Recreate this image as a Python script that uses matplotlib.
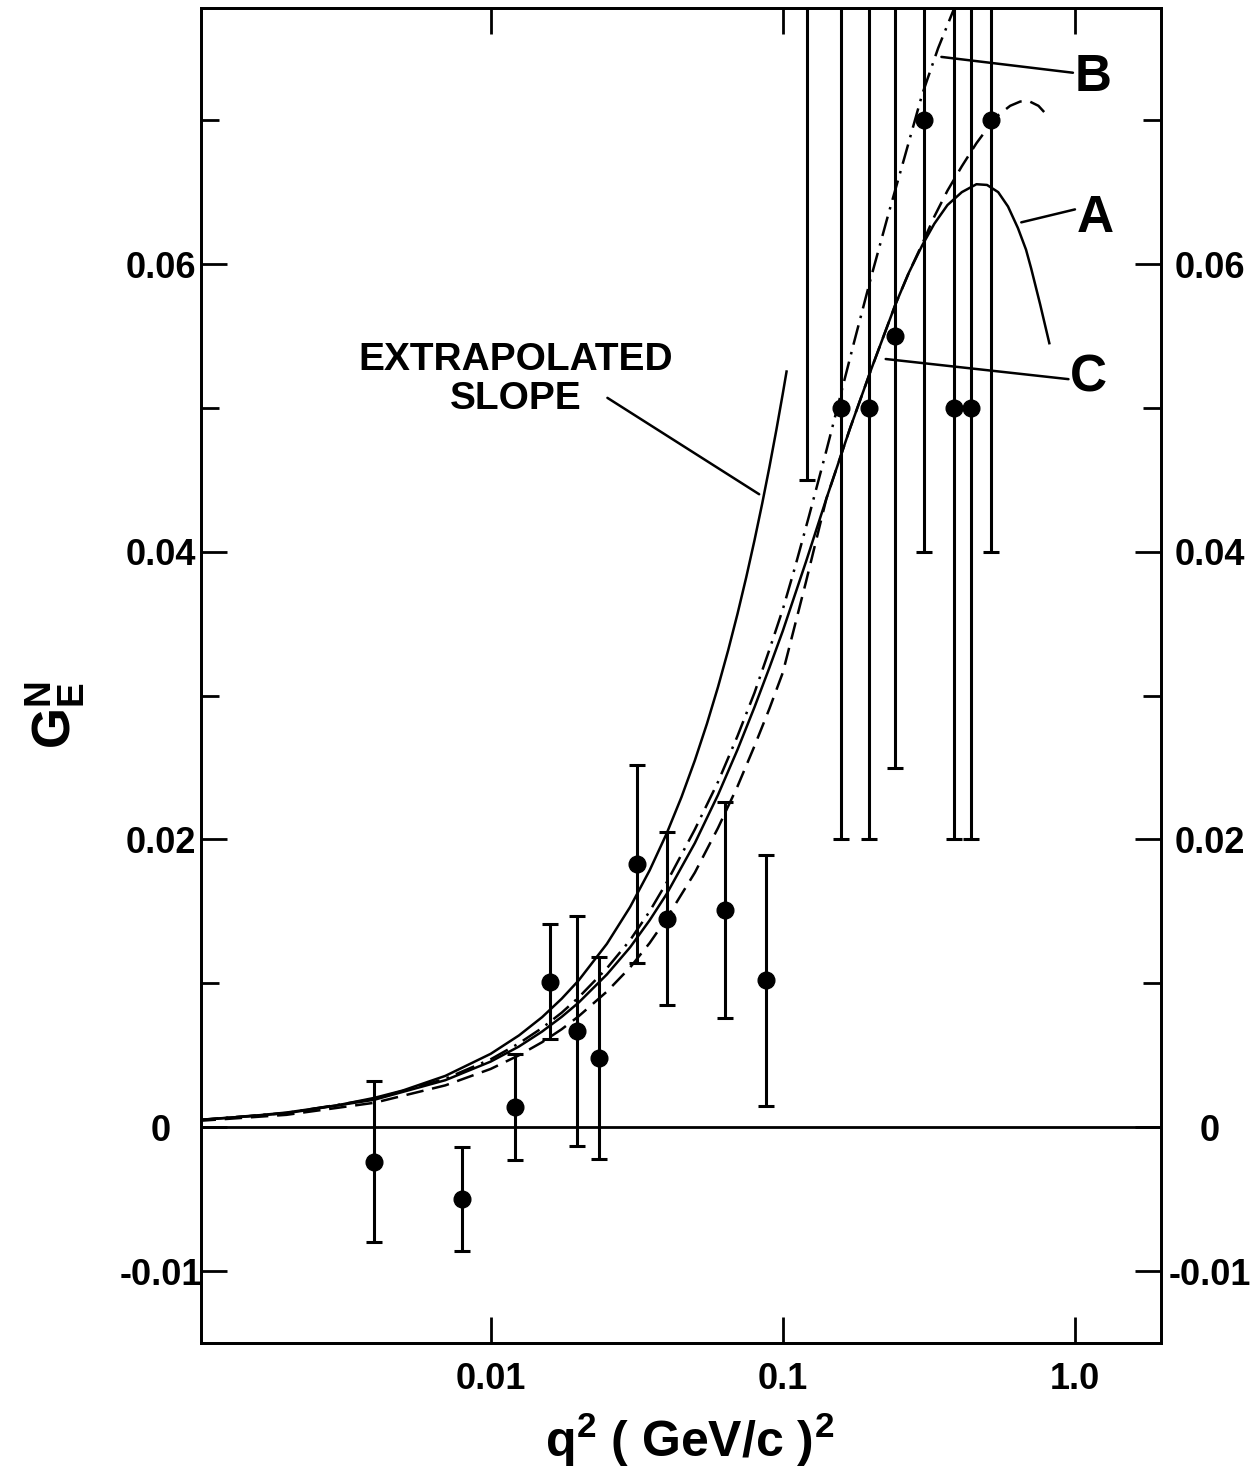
import numpy as np
import matplotlib
matplotlib.use('Agg')
import matplotlib.pyplot as plt
from matplotlib.ticker import FixedLocator, FixedFormatter, NullLocator

plt.rcParams['font.family'] = ['Liberation Sans Narrow', 'Liberation Sans', 'DejaVu Sans']
plt.rcParams['font.weight'] = 'bold'

# measured points (q^2 in (GeV/c)^2, G_E^N, symmetric error)
q2_pts = [0.0040, 0.0080, 0.0121, 0.0160, 0.0198, 0.0234, 0.0316, 0.0403, 0.0634, 0.0877,
          0.121, 0.158, 0.197, 0.243, 0.305, 0.384, 0.442, 0.517]
ge_pts = [-0.0024, -0.0050, 0.0014, 0.0101, 0.0067, 0.0048, 0.0183, 0.0145, 0.0151, 0.0102,
          0.085, 0.050, 0.050, 0.055, 0.070, 0.050, 0.050, 0.070]
ge_err = [0.0056, 0.0036, 0.0037, 0.0040, 0.0080, 0.0070, 0.0069, 0.0060, 0.0075, 0.0087,
          0.040, 0.030, 0.030, 0.030, 0.030, 0.030, 0.030, 0.030]

# extrapolated slope (straight line in q^2)
ext_q2 = [0.001, 0.0015, 0.002, 0.003, 0.004, 0.005, 0.007, 0.01, 0.0125, 0.015, 0.0175, 0.02,
          0.025, 0.03, 0.035, 0.04, 0.045, 0.05, 0.055, 0.06, 0.065, 0.07, 0.075, 0.08, 0.085,
          0.09, 0.095, 0.1, 0.103]
ext_ge = [0.00051, 0.00077, 0.00102, 0.00153, 0.00204, 0.00255, 0.00357, 0.00510, 0.00638,
          0.00765, 0.00893, 0.01020, 0.01275, 0.01530, 0.01785, 0.02040, 0.02295, 0.02550,
          0.02805, 0.03060, 0.03315, 0.03570, 0.03825, 0.04080, 0.04335, 0.04590, 0.04845,
          0.05100, 0.05253]

# curve A (solid)
a_q2 = [0.001, 0.002, 0.004, 0.007, 0.01, 0.0125, 0.015, 0.0175, 0.02, 0.025, 0.03, 0.035, 0.04,
        0.05, 0.06, 0.07, 0.08, 0.09, 0.1, 0.12, 0.141, 0.17, 0.2, 0.243, 0.27, 0.3, 0.33, 0.366,
        0.41, 0.46, 0.50, 0.546, 0.59, 0.638, 0.68, 0.708, 0.76, 0.817]
a_ge = [0.00049, 0.00097, 0.00191, 0.00327, 0.00456, 0.00561, 0.00665, 0.00767, 0.00866,
        0.01062, 0.01250, 0.01438, 0.01620, 0.01975, 0.02310, 0.02625, 0.02920, 0.03195,
        0.03450, 0.03930, 0.04370, 0.04860, 0.05260, 0.05720, 0.05940, 0.06130, 0.06280,
        0.06410, 0.06500, 0.06555, 0.06550, 0.06500, 0.06400, 0.06250, 0.06100, 0.05970,
        0.05720, 0.05450]

# curve B (dash-dot)
b_q2 = [0.001, 0.002, 0.004, 0.007, 0.01, 0.0125, 0.015, 0.0175, 0.02, 0.025, 0.03, 0.035, 0.04,
        0.05, 0.06, 0.07, 0.08, 0.09, 0.1, 0.11, 0.123, 0.14, 0.155, 0.175, 0.2, 0.23, 0.26,
        0.3, 0.34, 0.39, 0.42]
b_ge = [0.00050, 0.00099, 0.00196, 0.00337, 0.00472, 0.00583, 0.00690, 0.00796, 0.00902,
        0.01105, 0.01300, 0.01500, 0.01700, 0.02070, 0.02400, 0.02720, 0.03020, 0.03320,
        0.03600, 0.03890, 0.04250, 0.04680, 0.05030, 0.05450, 0.05900, 0.06350, 0.06730,
        0.07180, 0.07500, 0.07800, 0.07970]

# curve C (dashed)
c_q2 = [0.001, 0.002, 0.004, 0.007, 0.01, 0.0125, 0.015, 0.0175, 0.02, 0.025, 0.03, 0.035, 0.04,
        0.05, 0.06, 0.07, 0.08, 0.09, 0.1, 0.12, 0.141, 0.17, 0.2, 0.243, 0.27, 0.3, 0.33, 0.366,
        0.41, 0.46, 0.517, 0.55, 0.6, 0.65, 0.7, 0.75, 0.79]
c_ge = [0.00044, 0.00086, 0.00170, 0.00291, 0.00405, 0.00500, 0.00591, 0.00681, 0.00771,
        0.00943, 0.01110, 0.01280, 0.01450, 0.01770, 0.02080, 0.02370, 0.02650, 0.02910,
        0.03160, 0.03790, 0.04370, 0.04860, 0.05260, 0.05720, 0.05940, 0.06140, 0.06330,
        0.06510, 0.06680, 0.06840, 0.06980, 0.07040, 0.07100, 0.07130, 0.07130, 0.07100,
        0.07050]

fig = plt.figure(figsize=(12.6, 14.74), dpi=100)
ax = fig.add_axes([201/1260, 1-1343/1474, 960/1260, 1335/1474])

ax.set_xscale('log')
ax.set_xlim(0.00102, 1.97)
ax.set_ylim(-0.015, 0.0778)

ax.axhline(0, color='k', lw=2)

ax.plot(ext_q2, ext_ge, color='k', lw=1.8)
ax.plot(a_q2, a_ge, color='k', lw=1.8)
ax.plot(b_q2, b_ge, color='k', lw=1.8, dashes=(8, 3, 1, 3))
ax.plot(c_q2, c_ge, color='k', lw=1.8, dashes=(7, 3.5))

ax.errorbar(q2_pts, ge_pts, yerr=ge_err, fmt='o', color='k', ms=12, elinewidth=2.2,
            capsize=6, capthick=2.2)

# labels on curves
def lab(txt, xy, xytext, tx):
    ax.annotate('', xy=xy, xytext=xytext, arrowprops=dict(arrowstyle='-', lw=1.8, color='k',
                                                          shrinkA=0, shrinkB=0))
    ax.text(tx[0], tx[1], txt, fontsize=37, ha='center', va='center')

lab('B', (0.349, 0.0744), (0.984, 0.0733), (1.15, 0.0730))
lab('A', (0.655, 0.0629), (1.0, 0.0638), (1.17, 0.0632))
lab('C', (0.225, 0.0534), (0.95, 0.0520), (1.11, 0.0521))

ax.annotate('', xy=(0.0830, 0.0440), xytext=(0.0251, 0.0507),
            arrowprops=dict(arrowstyle='-', lw=1.8, color='k', shrinkA=0, shrinkB=0))
ax.text(0.0122, 0.0520, 'EXTRAPOLATED\nSLOPE', fontsize=28, ha='center', va='center',
        multialignment='center', linespacing=1.1)

# ticks
ax.xaxis.set_major_locator(FixedLocator([0.01, 0.1, 1.0]))
ax.xaxis.set_major_formatter(FixedFormatter(['0.01', '0.1', '1.0']))
ax.xaxis.set_minor_locator(NullLocator())

ytick_vals = [-0.01, 0, 0.02, 0.04, 0.06]
ytick_labs = ['-0.01', '0', '0.02', '0.04', '0.06']
yminor = [0.01, 0.03, 0.05, 0.07]

ax2 = ax.twinx()
ax2.set_ylim(ax.get_ylim())
for a, p in ((ax, 29), (ax2, 35)):
    a.yaxis.set_major_locator(FixedLocator(ytick_vals))
    a.yaxis.set_major_formatter(FixedFormatter(ytick_labs))
    a.yaxis.set_minor_locator(FixedLocator(yminor))
    a.tick_params(which='both', direction='in', width=2, labelsize=26)
    a.tick_params(which='major', length=19)
    a.tick_params(which='minor', length=13)
    a.tick_params(axis='y', which='major', pad=p)
    for s in a.spines.values():
        s.set_linewidth(2)
ax.tick_params(top=True, right=False)
ax.tick_params(axis='x', pad=14)
for t in ax.yaxis.get_major_ticks():
    t.label1.set_ha('center')
for t in ax2.yaxis.get_major_ticks():
    t.label2.set_ha('center')

fig.text(690/1260, 1-1440/1474, 'q$^\\mathregular{2}$ ( GeV/c )$^\\mathregular{2}$',
         fontsize=36, ha='center', va='center', family=['Liberation Sans', 'DejaVu Sans'])
fig.text(55/1260, 1-715/1474, '$\\mathregular{G_E^N}$', fontsize=38, rotation=90,
         ha='center', va='center')

fig.savefig('out.png', dpi=100)
